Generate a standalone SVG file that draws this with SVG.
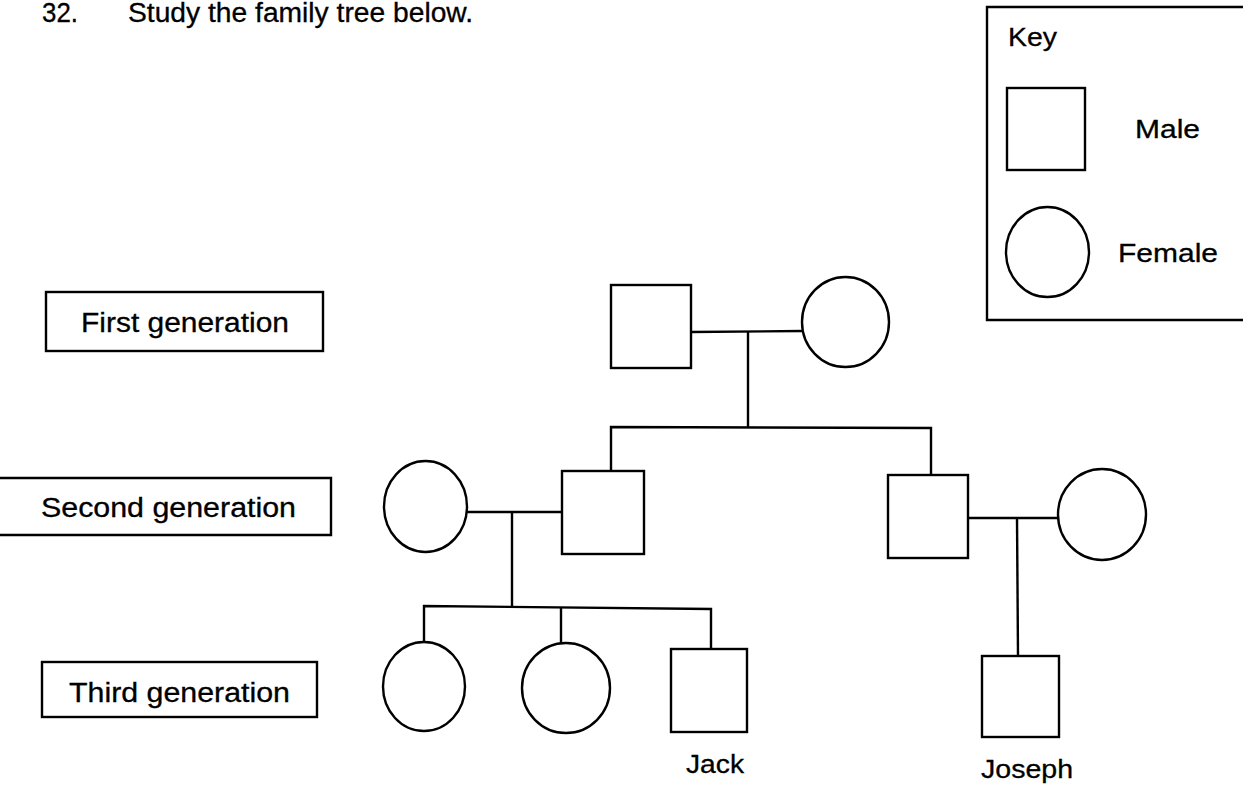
<svg xmlns="http://www.w3.org/2000/svg" width="1243" height="788" viewBox="0 0 1243 788">
<style>
.s{fill:#fff;stroke:#000;stroke-width:2.4}
.l{fill:none;stroke:#000;stroke-width:2.4}
.t{font-family:"Liberation Sans",Arial,sans-serif;fill:#000;stroke:#000;stroke-width:0.3}
</style>
<rect width="1243" height="788" fill="#fff"/>
<g id="title">
<text class="t" x="42" y="22" font-size="27" textLength="36" lengthAdjust="spacingAndGlyphs">32.</text>
<text class="t" x="128" y="22" font-size="27" textLength="345" lengthAdjust="spacingAndGlyphs">Study the family tree below.</text>
</g>
<g id="key">
<polyline class="l" points="1243,7 987,7 987,320 1243,320"/>
<text class="t" x="1008" y="46" font-size="26" textLength="49" lengthAdjust="spacingAndGlyphs">Key</text>
<rect class="s" x="1007" y="88" width="78" height="82"/>
<text class="t" x="1135" y="138" font-size="25" textLength="65" lengthAdjust="spacingAndGlyphs">Male</text>
<ellipse class="s" cx="1047.5" cy="252" rx="41.5" ry="45"/>
<text class="t" x="1118" y="262" font-size="26" textLength="100" lengthAdjust="spacingAndGlyphs">Female</text>
</g>
<g id="label-first">
<rect class="s" x="46" y="292" width="277" height="59"/>
<text class="t" x="81" y="332" font-size="27" textLength="208" lengthAdjust="spacingAndGlyphs">First generation</text>
</g>
<g id="label-second">
<polyline class="l" points="0,478 331,478 331,535 0,535"/>
<text class="t" x="41" y="517" font-size="27" textLength="255" lengthAdjust="spacingAndGlyphs">Second generation</text>
</g>
<g id="label-third">
<rect class="s" x="42" y="662" width="275" height="55"/>
<text class="t" x="69" y="702" font-size="27" textLength="221" lengthAdjust="spacingAndGlyphs">Third generation</text>
</g>
<g id="connectors">
<line class="l" x1="691" y1="332" x2="802" y2="331"/>
<line class="l" x1="748" y1="332" x2="748" y2="427"/>
<polyline class="l" points="611,471 611,427 931,428 931,475"/>
<line class="l" x1="467" y1="512" x2="562" y2="512"/>
<line class="l" x1="512" y1="512" x2="512" y2="606"/>
<polyline class="l" points="424,643 424,606 711,609 711,649"/>
<line class="l" x1="561" y1="607" x2="561" y2="643"/>
<line class="l" x1="968" y1="518" x2="1058" y2="518"/>
<line class="l" x1="1017" y1="518" x2="1018" y2="656"/>
</g>
<g id="gen1-male"><rect class="s" x="611" y="285" width="80" height="83"/></g>
<g id="gen1-female"><ellipse class="s" cx="845.5" cy="322" rx="43.5" ry="45"/></g>
<g id="gen2-female-left"><ellipse class="s" cx="425.5" cy="506.5" rx="41.5" ry="45.5"/></g>
<g id="gen2-male-left"><rect class="s" x="562" y="471" width="82" height="83"/></g>
<g id="gen2-male-right"><rect class="s" x="888" y="475" width="80" height="83"/></g>
<g id="gen2-female-right"><ellipse class="s" cx="1102" cy="514.5" rx="44" ry="45.5"/></g>
<g id="gen3-female-1"><ellipse class="s" cx="424" cy="686.5" rx="41" ry="44.5"/></g>
<g id="gen3-female-2"><ellipse class="s" cx="566" cy="688" rx="44" ry="45"/></g>
<g id="gen3-jack">
<rect class="s" x="671" y="649" width="76" height="83"/>
<text class="t" x="686" y="773" font-size="26" textLength="58" lengthAdjust="spacingAndGlyphs">Jack</text>
</g>
<g id="gen3-joseph">
<rect class="s" x="982" y="656" width="77" height="81"/>
<text class="t" x="981" y="778" font-size="26" textLength="92" lengthAdjust="spacingAndGlyphs">Joseph</text>
</g>
</svg>
